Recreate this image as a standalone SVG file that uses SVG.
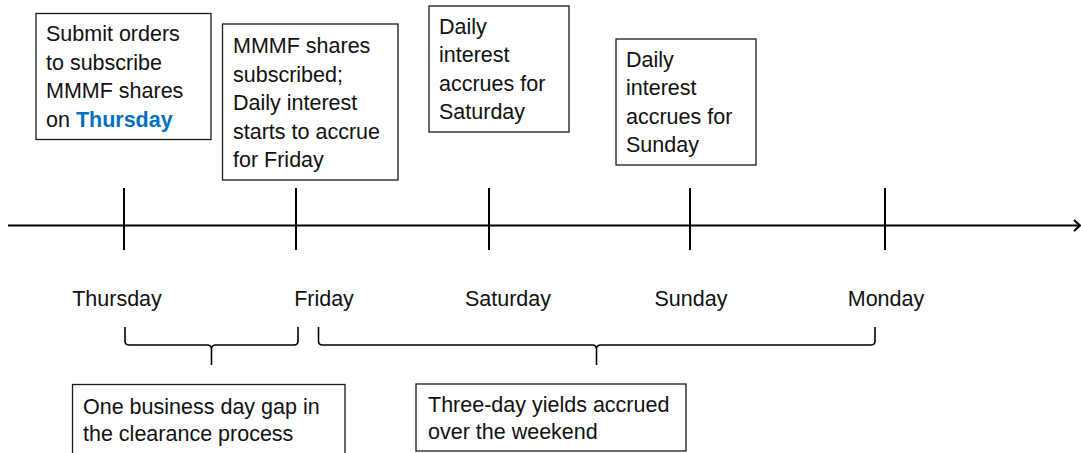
<svg xmlns="http://www.w3.org/2000/svg" width="1081" height="453" viewBox="0 0 1081 453">
<style>
.box{fill:#fff;stroke:#1a1a1a;stroke-width:1.3}
.t{font-family:"Liberation Sans",Arial,sans-serif;font-size:21.5px;fill:#111}
.hl{fill:#0070C0;font-weight:bold}
.ln{stroke:#000;stroke-width:2;fill:none}
.br{stroke:#000;stroke-width:1.6;fill:none}
.lbl{text-anchor:middle}
</style>
<rect width="1081" height="453" fill="#fff"/>
<g id="connectors">
<line class="ln" x1="8" y1="225.5" x2="1080" y2="225.5"/>
<polyline class="ln" points="1074,220 1080,225.5 1074,231"/>
<line class="ln" x1="124" y1="188" x2="124" y2="250"/>
<line class="ln" x1="296" y1="188" x2="296" y2="250"/>
<line class="ln" x1="489" y1="188" x2="489" y2="250"/>
<line class="ln" x1="690" y1="188" x2="690" y2="250"/>
<line class="ln" x1="885" y1="188" x2="885" y2="250"/>
<path class="br" d="M125,327 L125,341 Q125,345 129,345 L207,345 Q211.5,345 211.5,349 L211.5,365 M211.5,349 Q211.5,345 216,345 L294,345 Q298,345 298,341 L298,327"/>
<path class="br" d="M318.5,327 L318.5,341 Q318.5,345 322.5,345 L592,345 Q596.5,345 596.5,349 L596.5,365 M596.5,349 Q596.5,345 601,345 L871,345 Q875,345 875,341 L875,327"/>
</g>
<g id="labels">
<text class="t lbl" x="117" y="306">Thursday</text>
<text class="t lbl" x="324" y="306">Friday</text>
<text class="t lbl" x="508" y="306">Saturday</text>
<text class="t lbl" x="691" y="306">Sunday</text>
<text class="t lbl" x="886" y="306">Monday</text>
</g>
<g id="node-submit">
<rect class="box" x="36" y="13.5" width="175" height="126"/>
<text class="t" x="46" y="41">Submit orders</text>
<text class="t" x="46" y="69.5">to subscribe</text>
<text class="t" x="46" y="98">MMMF shares</text>
<text class="t" x="46" y="126.5">on <tspan class="hl">Thursday</tspan></text>
</g>
<g id="node-subscribed">
<rect class="box" x="222.5" y="24" width="175.5" height="156"/>
<text class="t" x="233" y="53">MMMF shares</text>
<text class="t" x="233" y="81.5">subscribed;</text>
<text class="t" x="233" y="110">Daily interest</text>
<text class="t" x="233" y="138.5">starts to accrue</text>
<text class="t" x="233" y="167">for Friday</text>
</g>
<g id="node-saturday">
<rect class="box" x="429" y="6" width="140" height="126"/>
<text class="t" x="439" y="33.5">Daily</text>
<text class="t" x="439" y="62">interest</text>
<text class="t" x="439" y="90.5">accrues for</text>
<text class="t" x="439" y="119">Saturday</text>
</g>
<g id="node-sunday">
<rect class="box" x="616" y="39" width="140" height="126"/>
<text class="t" x="626" y="66.5">Daily</text>
<text class="t" x="626" y="95">interest</text>
<text class="t" x="626" y="123.5">accrues for</text>
<text class="t" x="626" y="152">Sunday</text>
</g>
<g id="node-gap">
<rect class="box" x="72.5" y="384.5" width="272.5" height="80"/>
<text class="t" x="83" y="413.5">One business day gap in</text>
<text class="t" x="83" y="441">the clearance process</text>
</g>
<g id="node-weekend">
<rect class="box" x="416" y="384" width="270" height="67"/>
<text class="t" x="428" y="411.5">Three-day yields accrued</text>
<text class="t" x="428" y="439">over the weekend</text>
</g>
</svg>
